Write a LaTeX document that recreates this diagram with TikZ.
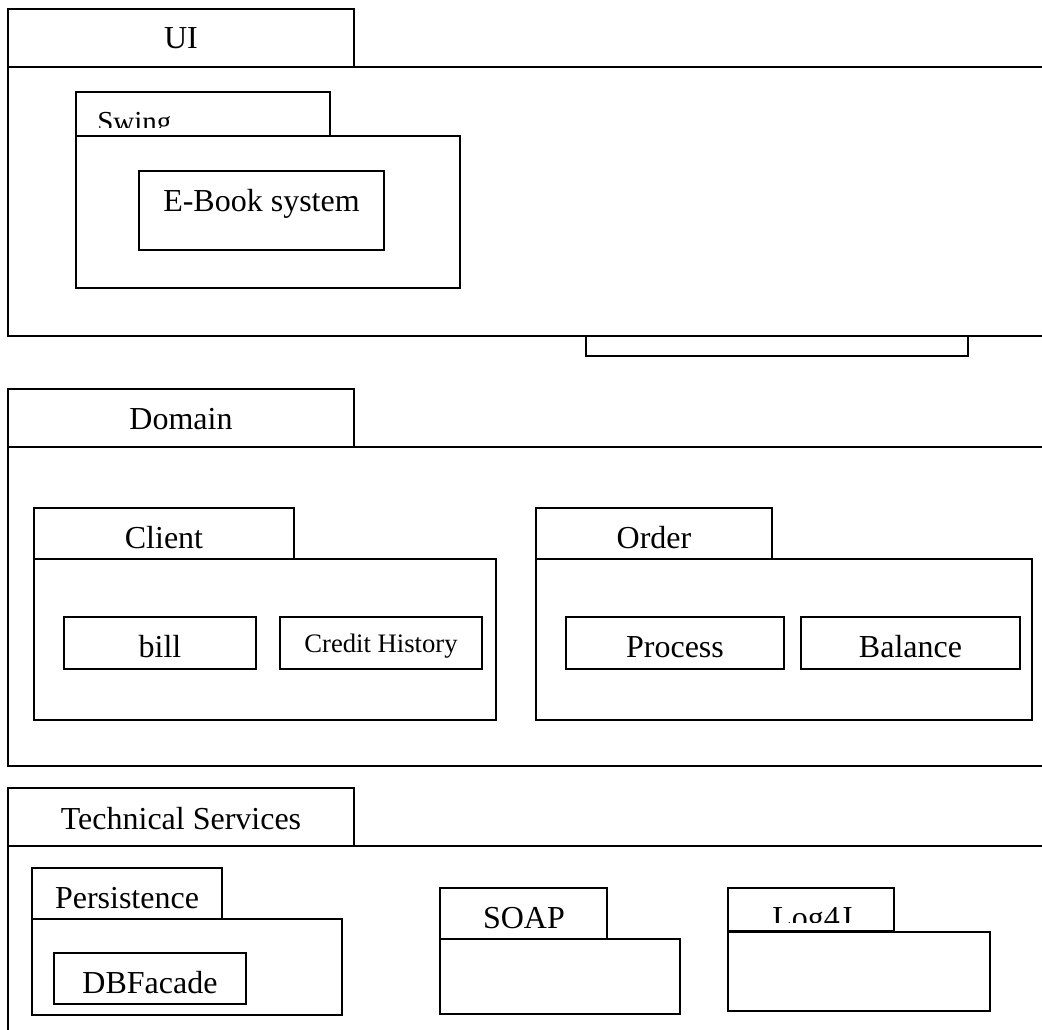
\documentclass[tikz,border=0pt]{standalone}
\usepackage{fontspec}
\setmainfont{Liberation Serif}
\begin{document}
\begin{tikzpicture}[x=0.75pt,y=-0.75pt,
  box/.style={draw=black, line width=1.4pt},
  lbl/.style={inner sep=0pt, anchor=base, font=\fontsize{24}{28}\selectfont},
  smalllbl/.style={inner sep=0pt, anchor=base, font=\fontsize{20}{24}\selectfont}]
\useasboundingbox (0,0) rectangle (1042,1029);
\clip (0,0) rectangle (1042,1029);

% ---------- UI ----------
\draw[box] (8,9) rectangle (354,67);
\draw[box] (1050,67) -- (8,67) -- (8,336) -- (1050,336);
\node[lbl] (ui) at (181,48) {UI};
\draw[box] (76,92) rectangle (330,136);
\begin{scope}
  \clip (76,92) rectangle (330,127);
  \node[inner sep=0pt, anchor=base west, font=\fontsize{21.75}{26}\selectfont] (swing) at (97,131) {Swing};
\end{scope}
\draw[box] (76,136) rectangle (460,288);
\draw[box] (139,171) rectangle (384,250);
\node[lbl] (ebook) at (261.5,211) {E-Book system};
\draw[box] (586,336) rectangle (968,356);

% ---------- Domain ----------
\draw[box] (8,389) rectangle (354,447);
\draw[box] (1050,447) -- (8,447) -- (8,766) -- (1050,766);
\node[lbl] (domain) at (181,429) {Domain};

\draw[box] (34,508) rectangle (294,559);
\draw[box] (34,559) rectangle (496,720);
\node[lbl] (client) at (164,548) {Client};
\draw[box] (64,617) rectangle (256,669);
\node[lbl] (bill) at (160,657) {bill};
\draw[box] (280,617) rectangle (482,669);
\node[smalllbl] (credit) at (381,652) {Credit History};

\draw[box] (536,508) rectangle (772,559);
\draw[box] (536,559) rectangle (1032,720);
\node[lbl] (order) at (654,548) {Order};
\draw[box] (566,617) rectangle (784,669);
\node[lbl] (process) at (675,657) {Process};
\draw[box] (801,617) rectangle (1020,669);
\node[lbl] (balance) at (910.5,657) {Balance};

% ---------- Technical Services ----------
\draw[box] (8,788) rectangle (354,846);
\draw[box] (1050,846) -- (8,846) -- (8,1040);
\node[lbl] (techserv) at (181,829) {Technical Services};

\draw[box] (32,868) rectangle (222,919);
\draw[box] (32,919) rectangle (342,1015);
\node[lbl] (persist) at (127,908) {Persistence};
\draw[box] (54,953) rectangle (246,1004);
\node[lbl] (dbfacade) at (150,993) {DBFacade};

\draw[box] (440,888) rectangle (607,939);
\draw[box] (440,939) rectangle (680,1014);
\node[lbl] (soap) at (524,928) {SOAP};

\draw[box] (728,888) rectangle (894,931);
\draw[box] (728,932) rectangle (990,1011);
\begin{scope}
  \clip (728,888) rectangle (894,922);
  \node[inner sep=0pt, anchor=base west, font=\fontsize{24}{28}\selectfont] (logfj) at (772,928) {Log4J};
\end{scope}
\end{tikzpicture}
\end{document}
